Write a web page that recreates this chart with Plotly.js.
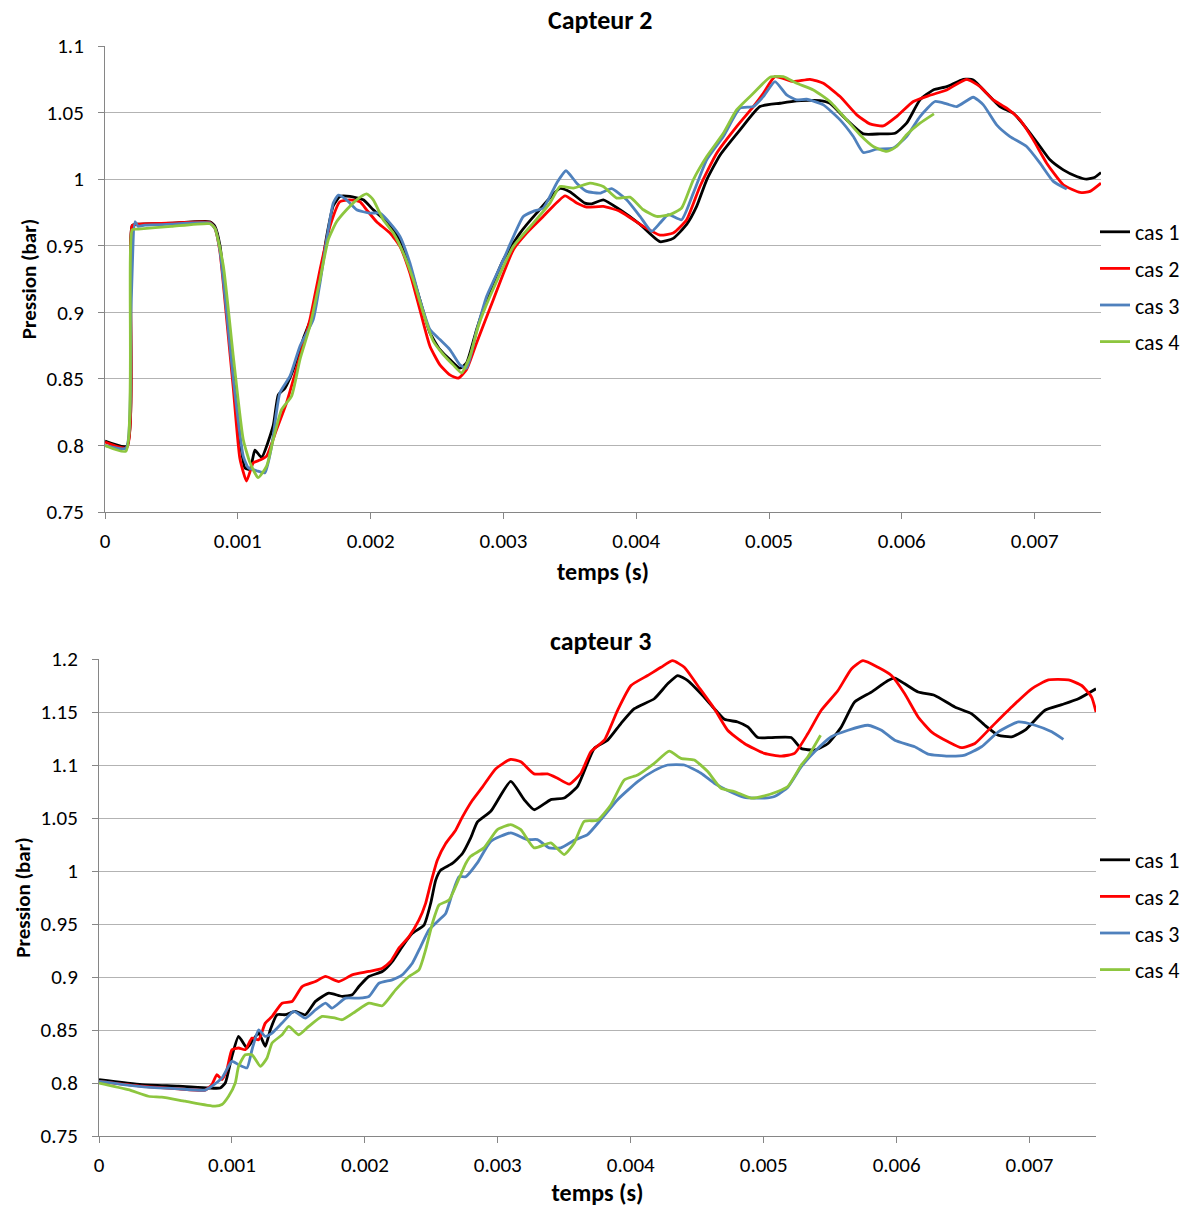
<!DOCTYPE html>
<html>
<head>
<meta charset="utf-8">
<script src="https://cdn.plot.ly/plotly-3.0.1.min.js"></script>
<style>html,body{margin:0;padding:0;background:#fff;}#chart{width:1192px;height:1207px;}</style>
</head>
<body>
<div id="chart"></div>
<script>
// ---------- Capteur 2 ----------
const c2_cas1_t = [0,0.000165,0.000205,0.00025,0.0005,0.00079,0.000828,0.000866,0.000916,0.000966,0.001016,0.001054,0.001092,0.001129,0.001179,0.001267,0.001305,0.001355,0.001418,0.001493,0.001568,0.001619,0.001669,0.001719,0.001769,0.001844,0.001945,0.00202,0.00212,0.002221,0.002296,0.002371,0.002447,0.002522,0.002597,0.002673,0.002723,0.002798,0.002874,0.003,0.003125,0.00325,0.003426,0.0035,0.003614,0.003665,0.003752,0.003878,0.004029,0.004179,0.004279,0.00438,0.004455,0.004531,0.004631,0.004782,0.004932,0.005083,0.005208,0.005384,0.005459,0.005585,0.00571,0.005836,0.005949,0.006036,0.006137,0.006237,0.006338,0.006463,0.006538,0.006639,0.006739,0.00684,0.00694,0.007041,0.007116,0.007216,0.007317,0.007392,0.007455,0.0075];
const c2_cas1_p = [0.8032,0.7995,0.965,0.9662,0.967,0.968,0.9645,0.95,0.905,0.855,0.805,0.783,0.782,0.7965,0.791,0.815,0.838,0.843,0.857,0.88,0.9,0.925,0.957,0.98,0.987,0.987,0.9845,0.977,0.968,0.9545,0.9345,0.9095,0.8845,0.872,0.8645,0.858,0.862,0.887,0.9095,0.9395,0.9595,0.9745,0.993,0.9905,0.982,0.9815,0.9845,0.977,0.966,0.953,0.9555,0.966,0.9795,0.9995,1.018,1.037,1.0545,1.057,1.0588,1.059,1.057,1.0445,1.034,1.034,1.0345,1.042,1.0595,1.067,1.0695,1.075,1.0745,1.0645,1.0545,1.0495,1.038,1.0245,1.0145,1.007,1.002,1.0,1.0015,1.005];

const c2_cas2_t = [0,0.000165,0.000205,0.00025,0.0005,0.00079,0.000828,0.000866,0.000916,0.000966,0.001016,0.001066,0.001117,0.001167,0.001217,0.001292,0.001367,0.001468,0.001543,0.001619,0.001694,0.001769,0.001844,0.00192,0.00197,0.002045,0.002146,0.002221,0.002296,0.002371,0.002447,0.002522,0.002597,0.00266,0.002723,0.002798,0.002924,0.003075,0.003175,0.0033,0.003464,0.003552,0.003627,0.003752,0.003878,0.004054,0.004179,0.004279,0.00438,0.00448,0.004606,0.004756,0.004882,0.004957,0.005045,0.005183,0.005309,0.005409,0.005535,0.005661,0.00576,0.005861,0.005961,0.006087,0.006212,0.006338,0.006488,0.006589,0.006689,0.00679,0.00689,0.00699,0.007091,0.007216,0.007342,0.007417,0.0075];
const c2_cas2_p = [0.8025,0.7985,0.965,0.9662,0.967,0.9675,0.963,0.945,0.895,0.843,0.79,0.7733,0.787,0.789,0.792,0.812,0.832,0.867,0.8945,0.932,0.9645,0.983,0.9845,0.983,0.977,0.968,0.9595,0.9495,0.9295,0.902,0.8745,0.8605,0.853,0.8505,0.857,0.877,0.9095,0.947,0.9595,0.972,0.9875,0.982,0.979,0.9795,0.9758,0.9645,0.958,0.9595,0.9695,0.9945,1.0195,1.0395,1.0545,1.0645,1.077,1.0733,1.075,1.072,1.062,1.0483,1.0415,1.04,1.047,1.0583,1.063,1.067,1.075,1.0695,1.0595,1.0533,1.0445,1.0295,1.012,0.9958,0.99,0.9908,0.997];

const c2_cas3_t = [0,0.000158,0.000195,0.000226,0.00025,0.0003,0.0005,0.00079,0.000828,0.000866,0.000916,0.000966,0.001041,0.001079,0.001142,0.001204,0.001255,0.001317,0.001393,0.001468,0.001568,0.001619,0.001669,0.001719,0.001757,0.001819,0.001895,0.001995,0.00207,0.002146,0.002221,0.002296,0.002371,0.002447,0.002522,0.002597,0.002673,0.002723,0.002798,0.002874,0.003,0.00315,0.003225,0.0033,0.003401,0.003471,0.003552,0.003627,0.003727,0.003815,0.003928,0.004029,0.004116,0.004179,0.004242,0.004342,0.00443,0.004531,0.004656,0.004782,0.004882,0.004957,0.005045,0.005133,0.005208,0.005283,0.005409,0.005535,0.005635,0.00571,0.005811,0.005936,0.006036,0.006137,0.00625,0.006338,0.006413,0.006538,0.006614,0.006714,0.006815,0.00694,0.007041,0.007141,0.007242];
const c2_cas3_p = [0.8,0.798,0.9,0.968,0.9645,0.9655,0.9662,0.967,0.963,0.946,0.9,0.85,0.792,0.7833,0.781,0.7795,0.7995,0.8395,0.852,0.8745,0.8945,0.922,0.9545,0.982,0.988,0.9845,0.977,0.9745,0.9745,0.967,0.957,0.937,0.9095,0.887,0.8795,0.872,0.8605,0.858,0.886,0.912,0.9395,0.972,0.9758,0.9783,0.997,1.0063,0.997,0.9908,0.9895,0.9928,0.9845,0.972,0.9608,0.967,0.9733,0.9695,0.9895,1.0145,1.032,1.0533,1.0545,1.062,1.0733,1.0633,1.0595,1.06,1.0558,1.0445,1.032,1.02,1.0225,1.0233,1.032,1.047,1.0583,1.0565,1.0545,1.0615,1.0558,1.0408,1.032,1.0245,1.012,0.9983,0.9925];

const c2_cas4_t = [0,0.000158,0.000205,0.00025,0.0005,0.00079,0.000828,0.000891,0.000966,0.001041,0.001092,0.001154,0.001217,0.001267,0.00133,0.001405,0.001468,0.001543,0.001619,0.001681,0.001744,0.001819,0.001895,0.00197,0.00202,0.002095,0.002171,0.002246,0.002321,0.002397,0.002472,0.002547,0.002622,0.002685,0.002748,0.002811,0.002899,0.003075,0.003225,0.003351,0.003426,0.003527,0.003652,0.003752,0.003853,0.003953,0.004054,0.004154,0.004254,0.004342,0.00443,0.004531,0.004656,0.004756,0.004882,0.005008,0.005108,0.005208,0.005334,0.005459,0.005585,0.005685,0.005785,0.005886,0.005961,0.006036,0.006137,0.006242];
const c2_cas4_p = [0.8,0.7958,0.962,0.9625,0.9645,0.9665,0.963,0.935,0.867,0.8045,0.787,0.7758,0.7845,0.8045,0.827,0.837,0.8645,0.8895,0.9245,0.9545,0.968,0.977,0.9845,0.989,0.9845,0.9695,0.9595,0.9445,0.9245,0.8995,0.8783,0.8683,0.8605,0.8545,0.867,0.8895,0.912,0.9495,0.967,0.982,0.9945,0.9933,0.997,0.9945,0.9858,0.9865,0.977,0.972,0.9733,0.9783,0.9995,1.017,1.0345,1.052,1.0645,1.0765,1.077,1.072,1.067,1.0583,1.0445,1.0333,1.0245,1.0208,1.0245,1.0333,1.042,1.049];

// ---------- capteur 3 ----------
const c3_cas1_t = [0,0.000322,0.000598,0.000824,0.000912,0.00095,0.001,0.00105,0.001113,0.001151,0.001201,0.001251,0.001289,0.001339,0.001402,0.001477,0.001553,0.001628,0.001729,0.001829,0.001905,0.001955,0.00203,0.002131,0.002206,0.002281,0.002357,0.002445,0.002495,0.002533,0.00257,0.002658,0.002734,0.002796,0.002847,0.002947,0.003097,0.003198,0.003273,0.003399,0.003499,0.0036,0.003725,0.003826,0.003926,0.004027,0.004177,0.004278,0.004353,0.004429,0.004529,0.004629,0.004705,0.004805,0.004881,0.004956,0.005057,0.005207,0.005283,0.005383,0.005484,0.005584,0.005684,0.00581,0.005936,0.005986,0.006061,0.006162,0.006287,0.006438,0.006564,0.006664,0.006765,0.006865,0.006966,0.007116,0.007242,0.007368,0.0075];
const c3_cas1_p = [0.8032,0.7985,0.797,0.7953,0.7953,0.8,0.8251,0.844,0.833,0.8393,0.8472,0.8346,0.8503,0.8644,0.8644,0.8675,0.8644,0.877,0.8848,0.8817,0.8832,0.891,0.9005,0.9052,0.9146,0.9287,0.9412,0.949,0.9695,0.9914,1.0008,1.0071,1.0165,1.0312,1.0463,1.0563,1.0845,1.0673,1.0578,1.0673,1.0688,1.0798,1.1156,1.1234,1.1391,1.1531,1.1625,1.1766,1.1844,1.1797,1.1672,1.1531,1.1431,1.1406,1.1359,1.1259,1.1259,1.1259,1.1156,1.1141,1.1203,1.1359,1.1594,1.1688,1.1797,1.1819,1.1766,1.1688,1.1656,1.1547,1.1484,1.1375,1.1281,1.1266,1.1328,1.1516,1.1569,1.1625,1.1719];

const c3_cas2_t = [0,0.000322,0.000598,0.000799,0.000849,0.000887,0.000925,0.000962,0.001,0.00105,0.0011,0.001151,0.001201,0.001251,0.001302,0.001377,0.001452,0.001528,0.001628,0.001704,0.001804,0.001905,0.00203,0.002131,0.002193,0.002256,0.002332,0.002407,0.002457,0.002495,0.002545,0.002608,0.002683,0.002734,0.002809,0.002884,0.002985,0.003097,0.003173,0.003273,0.003374,0.003449,0.003537,0.003625,0.0037,0.003801,0.003901,0.004002,0.004127,0.004228,0.004315,0.004403,0.004503,0.004629,0.004729,0.004855,0.005006,0.005132,0.005232,0.005333,0.005433,0.005559,0.00566,0.005747,0.00586,0.005961,0.006061,0.006162,0.006262,0.006388,0.006488,0.006589,0.006714,0.006865,0.007016,0.007142,0.007292,0.007392,0.007467,0.0075];
const c3_cas2_p = [0.8016,0.797,0.7945,0.7933,0.7985,0.8079,0.8032,0.8126,0.8314,0.833,0.8314,0.8424,0.8408,0.8565,0.8628,0.8753,0.8769,0.891,0.8957,0.9005,0.8957,0.902,0.9052,0.9083,0.9146,0.9272,0.9381,0.9538,0.9695,0.9883,1.0102,1.0259,1.0385,1.051,1.0667,1.0792,1.0965,1.1053,1.1031,1.0916,1.0916,1.0875,1.0819,1.0922,1.1125,1.1234,1.1516,1.175,1.1844,1.1922,1.1984,1.1922,1.175,1.1531,1.1328,1.1203,1.1109,1.1084,1.1109,1.1297,1.1516,1.1703,1.1906,1.1984,1.1922,1.1844,1.1672,1.1453,1.1313,1.1219,1.1163,1.1203,1.1359,1.1547,1.1719,1.1803,1.1803,1.175,1.1641,1.15];

const c3_cas3_t = [0,0.000322,0.000598,0.000799,0.000849,0.000925,0.001,0.00105,0.001113,0.001151,0.001201,0.001251,0.001302,0.001377,0.001465,0.001553,0.001628,0.001704,0.001754,0.001854,0.001955,0.00203,0.002106,0.002206,0.002281,0.002357,0.00242,0.002482,0.002558,0.002608,0.002658,0.002709,0.002759,0.002846,0.002947,0.003097,0.003223,0.003298,0.003386,0.003474,0.003575,0.003675,0.003775,0.003901,0.004052,0.004177,0.004278,0.004403,0.004529,0.004629,0.004729,0.004855,0.005006,0.005081,0.005182,0.005283,0.005383,0.005509,0.005635,0.005785,0.005886,0.005986,0.006136,0.006237,0.006388,0.006513,0.006639,0.006765,0.006916,0.007041,0.007167,0.007255];
const c3_cas3_p = [0.8016,0.7966,0.7945,0.7933,0.797,0.8048,0.8204,0.8173,0.8142,0.8314,0.8502,0.844,0.8471,0.8565,0.8675,0.8612,0.869,0.8753,0.8706,0.88,0.88,0.8816,0.8941,0.8973,0.902,0.913,0.9287,0.9444,0.9538,0.96,0.9789,0.9946,0.9946,1.0076,1.028,1.0359,1.0296,1.0296,1.0218,1.0218,1.029,1.0343,1.0484,1.0673,1.0844,1.0947,1.1,1.1,1.0922,1.0828,1.0759,1.0694,1.0688,1.0703,1.0791,1.0984,1.1125,1.1266,1.1328,1.1375,1.1328,1.1234,1.1172,1.1103,1.1084,1.1094,1.1172,1.1313,1.1406,1.1375,1.1313,1.1241];

const c3_cas4_t = [0,0.000221,0.000372,0.000472,0.000648,0.000874,0.000925,0.000975,0.001025,0.00105,0.0011,0.001151,0.001214,0.001264,0.001302,0.001377,0.001427,0.001503,0.001578,0.001678,0.001779,0.001829,0.00193,0.00203,0.002131,0.002231,0.002332,0.002407,0.002457,0.002508,0.002558,0.002633,0.002709,0.002759,0.002796,0.002896,0.002997,0.003097,0.003173,0.003273,0.003399,0.003499,0.003575,0.00365,0.00375,0.003851,0.003951,0.004052,0.004177,0.00429,0.004378,0.004478,0.004579,0.004679,0.004779,0.004905,0.005006,0.005106,0.005182,0.005283,0.005333,0.005428];
const c3_cas4_p = [0.8,0.7937,0.7875,0.7866,0.7828,0.7781,0.7797,0.7875,0.8,0.8157,0.8267,0.8267,0.8157,0.8236,0.8377,0.8455,0.8534,0.8455,0.8534,0.8628,0.8612,0.8597,0.8675,0.8753,0.8729,0.8879,0.9005,0.9067,0.9256,0.9507,0.9679,0.9726,0.993,1.0071,1.0139,1.0218,1.039,1.0437,1.039,1.0218,1.0265,1.0155,1.0265,1.0469,1.0478,1.0625,1.0859,1.0906,1.1016,1.1131,1.1063,1.1047,1.0938,1.0781,1.075,1.0688,1.0709,1.075,1.0797,1.1,1.1078,1.1281];

const seriesNames = ['cas 1','cas 2','cas 3','cas 4'];
const seriesColors = ['#000000','#ff0000','#4f81bd','#8dc63f'];
const chartTitles = ['Capteur 2','capteur 3'];
const xTitle = 'temps (s)';
const yTitle = 'Pression (bar)';

const topSeries = [[c2_cas1_t,c2_cas1_p],[c2_cas2_t,c2_cas2_p],[c2_cas3_t,c2_cas3_p],[c2_cas4_t,c2_cas4_p]];
const botSeries = [[c3_cas1_t,c3_cas1_p],[c3_cas2_t,c3_cas2_p],[c3_cas3_t,c3_cas3_p],[c3_cas4_t,c3_cas4_p]];

const FONT = 'Carlito, Lato, "Open Sans", sans-serif';
const traces = [];
topSeries.forEach((d,i)=>traces.push({x:d[0],y:d[1],xaxis:'x',yaxis:'y',type:'scatter',mode:'lines',name:seriesNames[i],
  line:{color:seriesColors[i],width:2.8,shape:'spline',smoothing:0.5},legend:'legend',legendgroup:'a'+i}));
botSeries.forEach((d,i)=>traces.push({x:d[0],y:d[1],xaxis:'x2',yaxis:'y2',type:'scatter',mode:'lines',name:seriesNames[i],
  line:{color:seriesColors[i],width:2.8,shape:'spline',smoothing:0.5},legend:'legend2',legendgroup:'b'+i}));

const W=1192,H=1207;
const xAx = (dom, anchor) => ({domain:dom, anchor:anchor, range:[0,0.0075], tick0:0, dtick:0.001, tickformat:'.3~f',
  showgrid:false, zeroline:false, showline:true, linecolor:'#868686', linewidth:1, ticks:'outside', ticklen:6, tickcolor:'#868686',
  ticklabelstandoff:4, tickfont:{family:FONT,size:21,color:'#000'},
  title:{text:'<b>'+xTitle+'</b>', font:{family:FONT,size:24,color:'#000'}, standoff:9}});
const yAx = (dom, anchor, r) => ({domain:dom, anchor:anchor, range:r, tick0:0.75, dtick:0.05,
  showgrid:true, gridcolor:'#b3b3b3', gridwidth:1, zeroline:false, showline:true, linecolor:'#868686', linewidth:1,
  ticks:'outside', ticklen:6, tickcolor:'#868686', ticklabelstandoff:10, tickfont:{family:FONT,size:21,color:'#000'},
  title:{text:'<b>'+yTitle+'</b>', font:{family:FONT,size:21,color:'#000'}, standoff:4}});

const legCommon = {xanchor:'left', yanchor:'top', font:{family:FONT,size:22,color:'#000'}, tracegroupgap:5, itemwidth:30, bgcolor:'rgba(0,0,0,0)'};

const layout = {
  width:W, height:H, margin:{l:0,r:0,t:0,b:0}, paper_bgcolor:'#fff', plot_bgcolor:'#fff',
  showlegend:true,
  xaxis: xAx([105/W,1101/W],'y'),
  yaxis: yAx([(H-512)/H,(H-46)/H],'x',[0.75,1.1]),
  xaxis2: xAx([99/W,1096/W],'y2'),
  yaxis2: yAx([(H-1136)/H,(H-659)/H],'x2',[0.75,1.2]),
  legend: Object.assign({x:1095/W, y:(H-211)/H}, legCommon),
  legend2: Object.assign({x:1095/W, y:(H-839)/H}, legCommon),
  annotations:[
    {text:'<b>'+chartTitles[0]+'</b>', xref:'paper', yref:'paper', x:600/W, y:(H-20)/H, xanchor:'center', yanchor:'middle', showarrow:false, font:{family:FONT,size:26,color:'#000'}},
    {text:'<b>'+chartTitles[1]+'</b>', xref:'paper', yref:'paper', x:600/W, y:(H-641)/H, xanchor:'center', yanchor:'middle', showarrow:false, font:{family:FONT,size:26,color:'#000'}}
  ]
};
Plotly.newPlot('chart', traces, layout, {displayModeBar:false, staticPlot:true});
</script>
</body>
</html>
